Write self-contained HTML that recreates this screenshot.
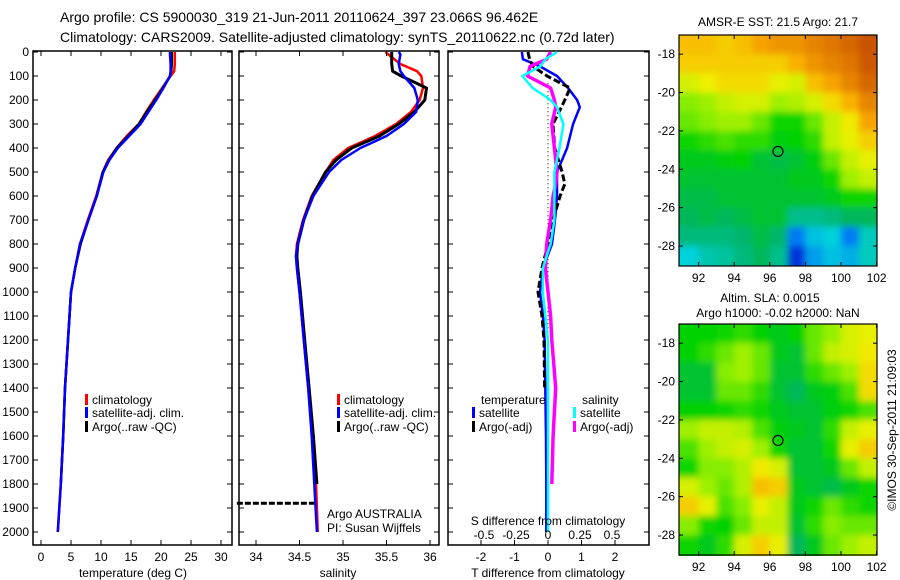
<!DOCTYPE html>
<html><head><meta charset="utf-8">
<style>
html,body{margin:0;padding:0;background:#fff;}
svg{display:block;font-family:"Liberation Sans",sans-serif;}
</style></head>
<body>
<svg id="chart" width="900" height="580" viewBox="0 0 900 580" xmlns="http://www.w3.org/2000/svg">
<defs>
<clipPath id="c1"><rect x="679" y="35" width="198" height="231"/></clipPath>
<clipPath id="c2"><rect x="679" y="324" width="198" height="232"/></clipPath>
<filter id="bl" x="-5%" y="-5%" width="110%" height="110%"><feGaussianBlur stdDeviation="3.5"/></filter>
</defs>
<text x="60" y="22" font-size="14">Argo profile: CS 5900030_319 21-Jun-2011 20110624_397 23.066S 96.462E</text>
<text x="60" y="42" font-size="14">Climatology: CARS2009. Satellite-adjusted climatology: synTS_20110622.nc (0.72d later)</text>
<g id="g"></g>
</svg>
<script>
// ---- data ----
const depthT = [0,10,50,80,100,150,200,250,300,350,400,450,500,600,700,800,900,1000,1200,1400,1600,1800,2000];
const tempClim = [22.3,22.3,22.3,22.2,21.6,20.2,18.8,17.5,16.3,14.3,12.6,11.2,10.3,9.2,7.8,6.5,5.7,5.0,4.5,4.0,3.7,3.3,2.8];
const tempSat  = [21.5,21.5,21.6,21.6,21.5,20.4,19.2,17.9,16.6,14.7,12.8,11.4,10.4,9.3,7.9,6.5,5.7,5.0,4.5,4.0,3.7,3.3,2.8];
const tempArgo = [21.8,21.8,21.8,21.7,21.5,20.3,19.0,17.6,16.3,14.5,12.6,11.3,10.3,9.3,7.9,6.6,5.7,5.0,4.5,4.0,3.7,3.3];
const depthS = [0,10,50,80,100,150,200,250,300,350,400,450,500,600,700,800,850,900,1000,1200,1400,1600,1800,2000];
const salClim = [35.49,35.52,35.66,35.85,35.9,35.92,35.88,35.78,35.61,35.37,35.06,34.89,34.8,34.64,34.54,34.47,34.46,34.47,34.5,34.55,34.6,34.65,34.69,34.71];
const salSat  = [35.64,35.66,35.64,35.66,35.7,35.82,35.86,35.84,35.7,35.5,35.2,34.98,34.84,34.66,34.55,34.48,34.46,34.47,34.5,34.55,34.6,34.64,34.67,34.7];
const salArgo = [35.56,35.56,35.56,35.57,35.67,35.96,35.94,35.82,35.64,35.42,35.1,34.92,34.8,34.65,34.55,34.48,34.47,34.48,34.51,34.56,34.61,34.66,34.7];
const argoTrackDepth = 1880;
const argoTrackSal = [33.78,34.67];
const depthD = [0,30,60,100,150,200,230,300,400,500,550,600,700,800,900,1000,1100,1200,1400,1600,1800,2000];
const dTSat  = [-0.78,-0.75,-0.24,0.27,0.6,0.87,0.95,0.75,0.57,0.27,0.27,0.27,0.21,0.12,-0.15,-0.24,-0.15,-0.1,-0.08,-0.06,-0.05,-0.05];
const dTArgo = [-0.6,-0.55,-0.45,-0.03,0.66,0.5,0.4,0.15,0.2,0.42,0.5,0.36,0.15,0,-0.18,-0.3,-0.18,-0.12,-0.1];
const dSSat  = [0.07,-0.02,-0.06,-0.2,-0.12,0.02,0.07,0.12,0.09,0.05,0.05,0.05,0.05,0.02,-0.04,-0.04,-0.02,0,0,0,0,0];
const dSArgo = [0.02,-0.01,-0.14,-0.16,0.02,0.05,0.06,0.03,0.05,0.07,0.06,0.04,0.02,-0.01,-0.02,0,0.02,0.03,0.06,0.04,0.03];
const depthTicks = [0,100,200,300,400,500,600,700,800,900,1000,1100,1200,1300,1400,1500,1600,1700,1800,1900,2000];
const tempTicks = [0,5,10,15,20,25,30];
const salTicks = [34,34.5,35,35.5,36];
const salTickLabels = ["34","34.5","35","35.5","36"];
const tdTicks = [-2,-1,0,1,2];
const sdTicks = [-0.5,-0.25,0,0.25,0.5];
const sdTickLabels = ["-0.5","-0.25","0","0.25","0.5"];
const lonTicks = [92,94,96,98,100,102];
const latTicks = [-18,-20,-22,-24,-26,-28];
const argoLon = 96.46, argoLat = -23.07;
// map values (0..1 colour index), rows lat -17 -> -29, cols lon 91 -> 102
const sstGrid = [
[0.82,0.82,0.8,0.82,0.86,0.88,0.88,0.9,0.92,0.94,0.97],
[0.8,0.8,0.8,0.8,0.8,0.8,0.84,0.88,0.9,0.92,0.96],
[0.72,0.75,0.78,0.78,0.78,0.74,0.72,0.82,0.86,0.9,0.94],
[0.64,0.66,0.7,0.72,0.72,0.66,0.68,0.72,0.78,0.84,0.9],
[0.62,0.64,0.66,0.66,0.62,0.56,0.56,0.62,0.7,0.76,0.86],
[0.56,0.58,0.6,0.58,0.58,0.54,0.55,0.58,0.7,0.74,0.8],
[0.52,0.52,0.54,0.55,0.5,0.48,0.5,0.54,0.62,0.7,0.74],
[0.5,0.5,0.5,0.5,0.5,0.5,0.52,0.52,0.56,0.66,0.7],
[0.48,0.48,0.5,0.5,0.5,0.5,0.5,0.5,0.52,0.56,0.56],
[0.46,0.48,0.46,0.48,0.5,0.5,0.4,0.4,0.42,0.46,0.46],
[0.42,0.42,0.42,0.44,0.48,0.44,0.2,0.28,0.3,0.2,0.34],
[0.3,0.36,0.38,0.42,0.46,0.4,0.1,0.24,0.28,0.26,0.34]];
const slaGrid = [
[0.55,0.55,0.56,0.58,0.55,0.52,0.55,0.62,0.65,0.72,0.74],
[0.55,0.58,0.62,0.66,0.62,0.52,0.5,0.62,0.7,0.72,0.76],
[0.5,0.5,0.64,0.66,0.62,0.5,0.5,0.58,0.62,0.66,0.78],
[0.5,0.5,0.62,0.62,0.58,0.5,0.46,0.52,0.54,0.6,0.78],
[0.55,0.55,0.56,0.58,0.56,0.52,0.5,0.5,0.54,0.56,0.6],
[0.66,0.7,0.7,0.68,0.6,0.54,0.52,0.5,0.58,0.7,0.74],
[0.6,0.66,0.7,0.72,0.66,0.56,0.5,0.5,0.56,0.74,0.8],
[0.56,0.64,0.64,0.68,0.76,0.72,0.5,0.5,0.52,0.62,0.7],
[0.72,0.66,0.62,0.68,0.82,0.8,0.52,0.5,0.48,0.52,0.56],
[0.8,0.74,0.6,0.64,0.74,0.7,0.52,0.56,0.62,0.58,0.56],
[0.64,0.56,0.55,0.62,0.7,0.7,0.5,0.58,0.64,0.62,0.62],
[0.56,0.52,0.58,0.72,0.8,0.74,0.46,0.52,0.62,0.66,0.7]];

// ---- drawing ----
const NS="http://www.w3.org/2000/svg";
const G=document.getElementById('g');
function el(tag,attrs,parent){const e=document.createElementNS(NS,tag);for(const k in attrs)e.setAttribute(k,attrs[k]);(parent||G).appendChild(e);return e;}
function txt(x,y,s,size,anchor,parent){const t=el('text',{x:x,y:y,'font-size':size||12,'text-anchor':anchor||'start'},parent);t.textContent=s;return t;}
const Y0=52, PXD=0.24;
const yD=d=>Y0+d*PXD;
const panelTop=51, panelBot=545;
const xT=v=>41+6*v;
const xS=v=>256+87*(v-34);
const xTD=v=>548+33.5*v;
const xSD=v=>548+128*v;

function panel(name,x0,x1,left){
  const g=el('g',{});
  
  
  el('rect',{x:x0,y:panelTop,width:x1-x0,height:panelBot-panelTop,fill:'none',stroke:'#000','stroke-width':1.5},g);
  depthTicks.forEach(d=>{
    el('line',{x1:x0,x2:x0+5,y1:yD(d),y2:yD(d),stroke:'#000'},g);
    el('line',{x1:x1,x2:x1-5,y1:yD(d),y2:yD(d),stroke:'#000'},g);
    if(left){txt(x0-4,yD(d)+4,String(d),12,'end',g);}
  });
  return g;
}
function line(g,xs,ds,fx,col,w,dash,name){
  const pts=xs.map((v,i)=>fx(v).toFixed(1)+','+yD(ds[i]).toFixed(1)).join(' ');
  const p=el('polyline',{points:pts,fill:'none',stroke:col,'stroke-width':w,'stroke-linejoin':'round'},g);
  if(dash)p.setAttribute('stroke-dasharray',dash);
  
  
  return p;
}
function xticks(g,ticks,labels,fx,y,bottomOnly){
  ticks.forEach((t,i)=>{
    const x=fx(t);
    el('line',{x1:x,x2:x,y1:panelBot,y2:panelBot-5,stroke:'#000'},g);
    if(!bottomOnly)el('line',{x1:x,x2:x,y1:panelTop,y2:panelTop+5,stroke:'#000'},g);
    txt(x,y,labels[i],12,'middle',g);
  });
}
function legendRow(g,x,y,col,label){
  el('rect',{x:x,y:y-10,width:3,height:11,fill:col},g);
  txt(x+7,y,label,12,'start',g);
}

const p1=panel('temperature-panel',33,232,true);
line(p1,tempClim,depthT,xT,'#ff0000',2.5,null,'temp-climatology-line');
line(p1,tempArgo,depthT,xT,'#000',2.5,null,'temp-argo-line');
line(p1,tempSat,depthT,xT,'#0000ff',2.5,null,'temp-satellite-line');
xticks(p1,tempTicks,tempTicks.map(String),xT,561);
txt(133,577,'temperature (deg C)',12,'middle',p1);
const lg1=el('g',{},p1);
legendRow(lg1,85,404,'#ff0000','climatology');
legendRow(lg1,85,417,'#0000ff','satellite-adj. clim.');
legendRow(lg1,85,431,'#000','Argo(..raw -QC)');

const p2=panel('salinity-panel',239,439,false);
line(p2,salClim,depthS,xS,'#ff0000',2.5,null,'sal-climatology-line');
line(p2,salArgo,depthS,xS,'#000',3,null,'sal-argo-line');
line(p2,salSat,depthS,xS,'#0000ff',2.5,null,'sal-satellite-line');
const tr=el('line',{x1:xS(argoTrackSal[0]),x2:xS(argoTrackSal[1]),y1:yD(argoTrackDepth),y2:yD(argoTrackDepth),stroke:'#000','stroke-width':3,'stroke-dasharray':'6 2'},p2);


xticks(p2,salTicks,salTickLabels,xS,561);
txt(338,577,'salinity',12,'middle',p2);
const lg2=el('g',{},p2);
legendRow(lg2,337,404,'#ff0000','climatology');
legendRow(lg2,337,417,'#0000ff','satellite-adj. clim.');
legendRow(lg2,337,431,'#000','Argo(..raw -QC)');
txt(327,518,'Argo AUSTRALIA',12,'start',p2);
txt(327,532,'PI: Susan Wijffels',12,'start',p2);

const p3=panel('difference-panel',448,649,false);
el('line',{x1:548,x2:548,y1:yD(130),y2:yD(1500),stroke:'#000','stroke-dasharray':'1 3'},p3);
line(p3,dTSat,depthD,xTD,'#0000ff',2.5,null,'tdiff-satellite-line');
line(p3,dTArgo,depthD.slice(0,dTArgo.length),xTD,'#000',3,'7 3','tdiff-argo-line');
line(p3,dSArgo,depthD.slice(0,dSArgo.length),xSD,'#ff00ff',3.5,null,'sdiff-argo-line');
line(p3,dSSat,depthD,xSD,'#00ffff',2.5,null,'sdiff-satellite-line');
xticks(p3,tdTicks,tdTicks.map(String),xTD,561,true);
txt(548,577,'T difference from climatology',12,'middle',p3);
sdTicks.forEach((t,i)=>txt(xSD(t),539,sdTickLabels[i],12,'middle',p3));
txt(548,525,'S difference from climatology',12,'middle',p3);
const lg3=el('g',{},p3);
txt(481,404,'temperature',12,'start',lg3);
legendRow(lg3,472,417,'#0000ff','satellite');
legendRow(lg3,472,431,'#000','Argo(-adj)');
txt(582,404,'salinity',12,'start',lg3);
legendRow(lg3,573,417,'#00ffff','satellite');
legendRow(lg3,573,431,'#ff00ff','Argo(-adj)');

const stops=[[0,[0,0,140]],[0.15,[0,80,255]],[0.3,[0,210,220]],[0.45,[0,180,100]],[0.55,[0,210,0]],[0.65,[150,240,0]],[0.75,[240,240,0]],[0.85,[250,170,0]],[1,[190,60,0]]];
function cmap(v){for(let i=1;i<stops.length;i++){if(v<=stops[i][0]){const a=stops[i-1],b=stops[i],f=(v-a[0])/(b[0]-a[0]);const c=a[1].map((x,k)=>Math.round(x+(b[1][k]-x)*f));return 'rgb('+c.join(',')+')';}}return 'rgb(190,60,0)';}

function map(name,grid,top,clip){
  const bot=top+231, pxLat=(bot-top)/12.04;
  const xL=v=>679+(v-90.9)*17.8;
  const yL=v=>top+(-17-v)*pxLat;
  const g=el('g',{});
  
  
  const cg=el('g',{'clip-path':'url(#'+clip+')'},g);
  const hg=el('g',{filter:'url(#bl)'},cg);
  grid.forEach((row,r)=>row.forEach((v,c)=>{
    const lon0=91+c, lat0=-17-r;
    const x=xL(lon0), y=yL(lat0);
    const rc=el('rect',{x:(c===0?x-10:x),y:(r===0?y-10:y),width:17.8+(c===0||c===10?12:0)+0.5,height:pxLat+(r===0||r===11?12:0)+0.5,fill:cmap(v)},hg);
    
    
  }));
  el('rect',{x:679,y:top,width:198,height:bot-top,fill:'none',stroke:'#000','stroke-width':1.2},g);
  lonTicks.forEach(t=>{const x=xL(t);el('line',{x1:x,x2:x,y1:bot,y2:bot-4,stroke:'#000'},g);el('line',{x1:x,x2:x,y1:top,y2:top+4,stroke:'#000'},g);txt(x,bot+16,String(t),12,'middle',g);});
  latTicks.forEach(t=>{const y=yL(t);el('line',{x1:679,x2:683,y1:y,y2:y,stroke:'#000'},g);el('line',{x1:877,x2:873,y1:y,y2:y,stroke:'#000'},g);txt(675,y+4,String(t),12,'end',g);});
  const ci=el('circle',{cx:xL(argoLon),cy:yL(argoLat),r:5,fill:'none',stroke:'#000','stroke-width':1.2},g);
  
  
  return g;
}
const m1=map('sst-map',sstGrid,35,'c1');
txt(778,26,'AMSR-E SST: 21.5 Argo: 21.7',12,'middle',m1);
const m2=map('sla-map',slaGrid,324,'c2');
txt(770,302,'Altim. SLA: 0.0015',12,'middle',m2);
txt(778,317,'Argo h1000: -0.02 h2000: NaN',12,'middle',m2);
const cp=txt(0,0,'©IMOS 30-Sep-2011 21:09:03',12,'middle');
cp.setAttribute('transform','translate(896,430) rotate(-90)');


</script>
</body></html>
